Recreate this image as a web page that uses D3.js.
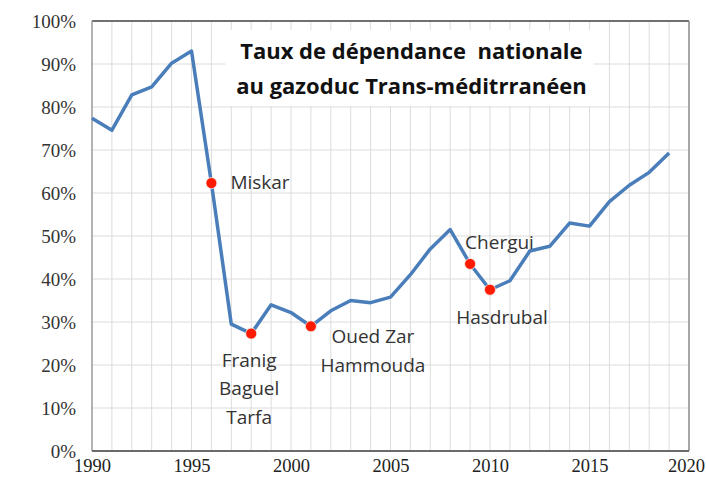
<!DOCTYPE html>
<html>
<head>
<meta charset="utf-8">
<script src="https://cdn.jsdelivr.net/npm/d3@7"></script>
<style>
  body { margin: 0; background: #fff; }
  svg { display: block; }
</style>
</head>
<body>
<svg id="chart" width="706" height="477"></svg>
<script>
// années et taux de dépendance
const years = [1990, 1991, 1992, 1993, 1994, 1995, 1996, 1997, 1998, 1999,
               2000, 2001, 2002, 2003, 2004, 2005, 2006, 2007, 2008, 2009,
               2010, 2011, 2012, 2013, 2014, 2015, 2016, 2017, 2018, 2019];
const rates = [0.774, 0.746, 0.828, 0.847, 0.902, 0.930, 0.623, 0.295, 0.273, 0.340,
               0.322, 0.290, 0.326, 0.350, 0.345, 0.358, 0.410, 0.470, 0.515, 0.435,
               0.375, 0.396, 0.465, 0.476, 0.530, 0.523, 0.580, 0.618, 0.648, 0.693];

// gisements mis en service
const fields = [
  { year: 1996, lines: ['Miskar'], anchor: 'start', dx: 19, dy: 6 },
  { year: 1998, lines: ['Franig', 'Baguel', 'Tarfa'], anchor: 'middle', dx: -2, dy: 33 },
  { year: 2001, lines: ['Oued Zar', 'Hammouda'], anchor: 'middle', dx: 62, dy: 17 },
  { year: 2009, lines: ['Chergui'], anchor: 'start', dx: -5, dy: -15 },
  { year: 2010, lines: ['Hasdrubal'], anchor: 'middle', dx: 12, dy: 34 }
];

const xTicks = [1990, 1995, 2000, 2005, 2010, 2015, 2020];
const yTicks = d3.range(0, 1.01, 0.1);
const titleLines = ['Taux de dépendance\u00a0 nationale', 'au gazoduc Trans-méditrranéen'];

const svg = d3.select('#chart');
const m = { top: 21, right: 17, bottom: 26, left: 92 };
const W = 706, H = 477;
const w = W - m.left - m.right;
const h = H - m.top - m.bottom;

const g = svg.append('g').attr('transform', `translate(${m.left},${m.top})`);

const x = d3.scaleLinear().domain([1990, 2020]).range([0, w]);
const y = d3.scaleLinear().domain([0, 1]).range([h, 0]);

// grille
g.append('g')
  .selectAll('line')
  .data(d3.range(1991, 2020))
  .join('line')
  .attr('x1', d => x(d)).attr('x2', d => x(d))
  .attr('y1', 0).attr('y2', h)
  .attr('stroke', '#dcdcdc').attr('stroke-width', 1);

g.append('g')
  .selectAll('line')
  .data(yTicks.slice(1, -1))
  .join('line')
  .attr('x1', 0).attr('x2', w)
  .attr('y1', d => y(d)).attr('y2', d => y(d))
  .attr('stroke', '#dcdcdc').attr('stroke-width', 1);

// bordures
g.append('line').attr('x1', 0).attr('x2', w).attr('y1', 0).attr('y2', 0)
  .attr('stroke', '#707070').attr('stroke-width', 2);
g.append('line').attr('x1', w).attr('x2', w).attr('y1', 0).attr('y2', h)
  .attr('stroke', '#8a8a8a').attr('stroke-width', 1.5);
g.append('line').attr('x1', 0).attr('x2', 0).attr('y1', 0).attr('y2', h)
  .attr('stroke', '#9a9a9a').attr('stroke-width', 1.5);
g.append('line').attr('x1', 0).attr('x2', w).attr('y1', h).attr('y2', h)
  .attr('stroke', '#6a6a6a').attr('stroke-width', 2);

// axes
const yAxis = g.append('g')
  .call(d3.axisLeft(y).tickValues(yTicks).tickFormat(d3.format('.0%')).tickSize(0).tickPadding(16));
yAxis.select('.domain').remove();
yAxis.selectAll('text')
  .attr('font-family', '"Liberation Serif", "DejaVu Serif", serif')
  .attr('font-size', 19).attr('fill', '#333');

const xAxis = g.append('g')
  .attr('transform', `translate(0,${h})`)
  .call(d3.axisBottom(x).tickValues(xTicks).tickFormat(d3.format('d')).tickSize(0).tickPadding(8));
xAxis.select('.domain').remove();
xAxis.selectAll('text')
  .attr('font-family', '"Liberation Serif", "DejaVu Serif", serif')
  .attr('font-size', 18.5).attr('fill', '#222')
  .attr('dx', d => d === 2020 ? -3 : 0);

// boîte du titre
g.append('rect')
  .attr('x', x(1996.7)).attr('y', 9)
  .attr('width', x(2015.2) - x(1996.7)).attr('height', 76)
  .attr('fill', '#fff');

g.append('text')
  .attr('x', x(2006.05)).attr('y', 38)
  .attr('text-anchor', 'middle')
  .attr('font-family', '"Open Sans", "Noto Sans", sans-serif')
  .attr('font-weight', 'bold')
  .attr('font-size', 22)
  .attr('fill', '#111')
  .selectAll('tspan')
  .data(titleLines)
  .join('tspan')
  .attr('x', x(2006.05))
  .attr('dy', (d, i) => i ? 35 : 0)
  .text(d => d);

// courbe
const data = years.map((yr, i) => ({ year: yr, rate: rates[i] }));
const line = d3.line().x(d => x(d.year)).y(d => y(d.rate));

g.append('path')
  .datum(data)
  .attr('d', line)
  .attr('fill', 'none')
  .attr('stroke', '#4a7ebb')
  .attr('stroke-width', 3.5)
  .attr('stroke-linejoin', 'round');

// points rouges + étiquettes
const byYear = new Map(data.map(d => [d.year, d.rate]));

g.selectAll('.dot')
  .data(fields)
  .join('circle')
  .attr('class', 'dot')
  .attr('cx', d => x(d.year))
  .attr('cy', d => y(byYear.get(d.year)))
  .attr('r', 5.5)
  .attr('fill', '#ff1a00')
  .attr('stroke', '#f0f0f0')
  .attr('stroke-width', 0.8);

fields.forEach(f => {
  const t = g.append('text')
    .attr('x', x(f.year) + f.dx)
    .attr('y', y(byYear.get(f.year)) + f.dy)
    .attr('text-anchor', f.anchor)
    .attr('font-family', '"Open Sans", "Noto Sans", sans-serif')
    .attr('font-size', 19)
    .attr('fill', '#333');
  t.selectAll('tspan')
    .data(f.lines)
    .join('tspan')
    .attr('x', x(f.year) + f.dx)
    .attr('dy', (d, i) => i ? 28.5 : 0)
    .text(d => d);
});
</script>
</body>
</html>
